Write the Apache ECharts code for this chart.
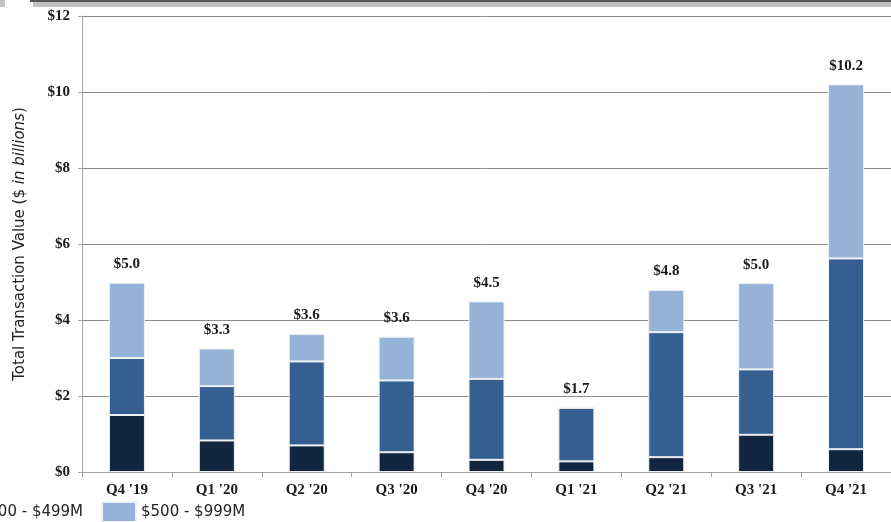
<!DOCTYPE html>
<html>
<head>
<meta charset="utf-8">
<script src="https://cdn.jsdelivr.net/npm/echarts@6/dist/echarts.min.js"></script>
<style>html,body{margin:0;padding:0;background:#fff;}#c{width:891px;height:522px;}</style>
</head>
<body>
<div id="c"></div>
<script>
var categories = ["Q4 '19", "Q1 '20", "Q2 '20", "Q3 '20", "Q4 '20", "Q1 '21", "Q2 '21", "Q3 '21", "Q4 '21"];
var under100 = [1.50, 0.83, 0.70, 0.52, 0.32, 0.28, 0.39, 0.98, 0.60];
var mid100to499 = [1.50, 1.43, 2.21, 1.89, 2.13, 1.41, 3.29, 1.72, 5.02];
var high500to999 = [1.98, 0.99, 0.72, 1.15, 2.04, 0, 1.11, 2.27, 4.58];
var totals = [5.0, 3.3, 3.6, 3.6, 4.5, 1.7, 4.8, 5.0, 10.2];
var yTicks = [0, 2, 4, 6, 8, 10, 12];
var seriesNames = ['< $100M', '$100 - $499M', '$500 - $999M'];

var legendFont = "15px 'DejaVu Sans'";
var ctx = document.createElement('canvas').getContext('2d');
ctx.font = legendFont;
var w1 = ctx.measureText(seriesNames[0]).width;
var w2 = ctx.measureText(seriesNames[1]).width;
var itemW = 34, gap = 18, txtGap = 5;
var legendLeft = 99 - (itemW + txtGap + w1 + gap + itemW + txtGap + w2 + gap);

var chart = echarts.init(document.getElementById('c'));
var serif = "'Liberation Serif', 'DejaVu Serif', serif";
var barStyle = function (c) { return { color: c, borderColor: '#eef0f3', borderWidth: 1 }; };
chart.setOption({
  animation: false,
  graphic: [
    { type: 'rect', shape: { x: 0, y: 0, width: 5, height: 7 }, style: { fill: '#c4c4c4' } },
    { type: 'rect', shape: { x: 33, y: 2, width: 858, height: 5 }, style: { fill: '#c0c0c0' } },
    { type: 'rect', shape: { x: 30, y: 0, width: 861, height: 2 }, style: { fill: '#555555' } }
  ],
  grid: { left: 82, top: 16, right: -10, bottom: 50 },
  legend: {
    data: seriesNames,
    left: legendLeft, top: 501, width: 2000,
    padding: 0,
    itemWidth: itemW, itemHeight: 20, itemGap: gap,
    icon: 'rect',
    textStyle: { fontFamily: "'DejaVu Sans', sans-serif", fontSize: 15, color: '#222' }
  },
  xAxis: {
    type: 'category',
    data: categories,
    axisLine: { lineStyle: { color: '#a0a0a0', width: 1 } },
    axisTick: { show: true, length: 5, lineStyle: { color: '#a0a0a0' } },
    axisLabel: { margin: 11, fontFamily: serif, fontWeight: 'bold', fontSize: 15, color: '#1a1a1a' }
  },
  yAxis: {
    type: 'value',
    min: 0, max: 12, interval: 2,
    name: '{a|Total Transaction Value ($ }{b|in billions}{a|)}',
    nameLocation: 'middle',
    nameGap: 54,
    nameTextStyle: {
      rich: {
        a: { fontFamily: "'DejaVu Sans', sans-serif", fontSize: 15, color: '#222' },
        b: { fontFamily: "'DejaVu Sans', sans-serif", fontSize: 15, fontStyle: 'italic', color: '#222' }
      }
    },
    axisLine: { show: true, lineStyle: { color: '#a8a8a8', width: 1 } },
    axisTick: { show: true, length: 4, lineStyle: { color: '#a8a8a8' } },
    splitLine: { lineStyle: { color: '#8e8e8e', width: 1 } },
    axisLabel: {
      margin: 12, fontFamily: serif, fontWeight: 'bold', fontSize: 15, color: '#1a1a1a',
      formatter: function (v) { return yTicks.indexOf(v) >= 0 ? '$' + v : ''; }
    }
  },
  series: [
    { name: seriesNames[0], type: 'bar', stack: 't', barWidth: 36, data: under100, itemStyle: barStyle('#12253f') },
    { name: seriesNames[1], type: 'bar', stack: 't', barWidth: 36, data: mid100to499, itemStyle: barStyle('#355f91') },
    { name: seriesNames[2], type: 'bar', stack: 't', barWidth: 36, data: high500to999, itemStyle: barStyle('#95b3d7') },
    {
      name: 'total', type: 'bar', stack: 't', barWidth: 36,
      data: totals.map(function () { return 0; }),
      itemStyle: { color: 'transparent', borderWidth: 0 },
      label: {
        show: true, position: 'top', distance: 11,
        fontFamily: serif, fontWeight: 'bold', fontSize: 15, color: '#1a1a1a',
        formatter: function (p) { return '$' + totals[p.dataIndex].toFixed(1); }
      },
      silent: true
    }
  ]
});
</script>
</body>
</html>
